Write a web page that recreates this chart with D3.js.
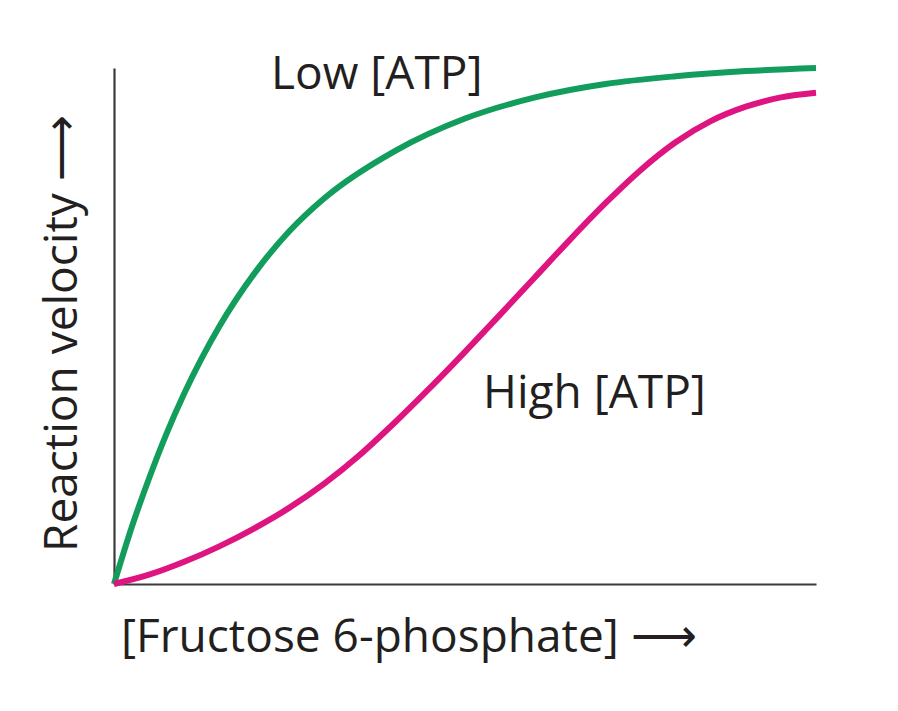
<!DOCTYPE html>
<html>
<head>
<meta charset="utf-8">
<script src="https://cdn.jsdelivr.net/npm/d3@7"></script>
<style>
  body { margin: 0; background: #fff; }
  text { font-family: "Open Sans", "Noto Sans", sans-serif; fill: #231f20; }
</style>
</head>
<body>
<div id="chart"></div>
<script>
var width = 898,
    height = 711;

// fructose 6-phosphate concentration (arbitrary units, 0-100)
var lowX  = [0, 2.5, 5, 7.5, 10, 15, 20, 25, 30, 40, 50, 60, 70, 80, 90, 100];
var lowV  = [0, 10.9, 20.5, 29.2, 36.9, 49.9, 60.2, 68.4, 74.8, 83.9, 90.2, 94.3, 96.9, 98.4, 99.4, 100];
var highX = [0, 5, 10, 15, 20, 25, 30, 35, 40, 45, 50, 55, 60, 65, 70, 75, 80, 85, 90, 95, 100];
var highV = [0, 1.8, 4.3, 7.3, 10.8, 14.8, 19.5, 25, 31.3, 38, 45, 52.2, 59.5, 66.8, 73.8, 80.2, 85.6, 89.7, 92.5, 94.3, 95.2];

var seriesNames = ["Low [ATP]", "High [ATP]"];
var seriesColors = ["#129d5c", "#de1480"];

var svg = d3.select("#chart")
    .append("svg")
    .attr("width", width)
    .attr("height", height);

svg.append("rect")
    .attr("width", width)
    .attr("height", height)
    .attr("fill", "#fff");

var x = d3.scaleLinear()
    .domain([0, 100])
    .range([114, 816]);
var y = d3.scaleLinear()
    .domain([0, 100])
    .range([584, 68]);

// axes: bare lines, no ticks
svg.append("g")
    .attr("transform", "translate(0," + y(0) + ")")
    .call(d3.axisBottom(x).ticks(0).tickSizeOuter(0))
    .select(".domain")
    .attr("stroke", "#3a3a3a")
    .attr("stroke-width", 2.2);
svg.append("g")
    .attr("transform", "translate(" + x(0) + ",0)")
    .call(d3.axisLeft(y).ticks(0).tickSizeOuter(0))
    .select(".domain")
    .attr("stroke", "#3a3a3a")
    .attr("stroke-width", 2.2);

var line = d3.line()
    .x(function(d) { return x(d[0]); })
    .y(function(d) { return y(d[1]); })
    .curve(d3.curveMonotoneX);

var series = [d3.zip(lowX, lowV), d3.zip(highX, highV)];

svg.append("g")
    .selectAll("path")
    .data(series)
    .enter().append("path")
    .attr("d", line)
    .attr("fill", "none")
    .attr("stroke", function(d, i) { return seriesColors[i]; })
    .attr("stroke-width", 6)
    .attr("stroke-linecap", "butt");

// curve labels
svg.append("text")
    .attr("x", 271)
    .attr("y", 89)
    .attr("font-size", 46)
    .text(seriesNames[0]);
svg.append("text")
    .attr("x", 483)
    .attr("y", 408)
    .attr("font-size", 46)
    .text(seriesNames[1]);

// axis titles
svg.append("text")
    .attr("x", 121)
    .attr("y", 652)
    .attr("font-size", 46)
    .text("[Fructose 6-phosphate] \u27F6");
svg.append("text")
    .attr("transform", "translate(77,552) rotate(-90)")
    .attr("font-size", 46)
    .text("Reaction velocity \u27F6");
</script>
</body>
</html>
